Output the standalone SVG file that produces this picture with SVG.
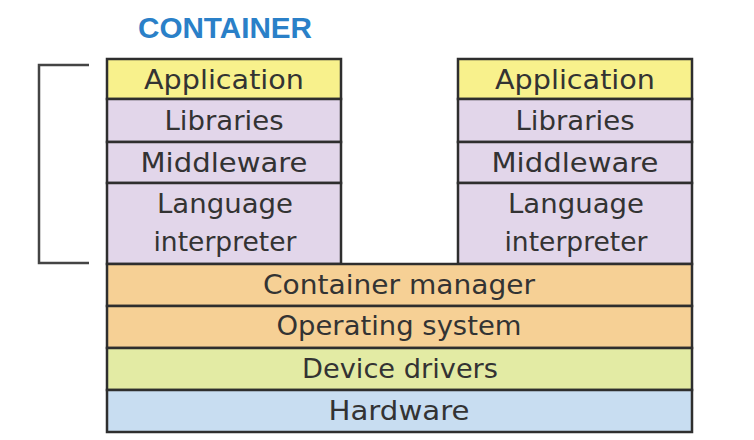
<svg xmlns="http://www.w3.org/2000/svg" width="754" height="440" viewBox="0 0 754 440">
<style>
.box{stroke:#2e2e2e;stroke-width:2.5}
.app{fill:#f8f18c}
.pur{fill:#e2d6ea}
.org{fill:#f6d095}
.grn{fill:#e3eba4}
.blu{fill:#c8ddf1}
.lbl{font-family:"DejaVu Sans","Liberation Sans",sans-serif;font-size:27px;fill:#333;text-anchor:middle}
.title{font-family:"Liberation Sans",sans-serif;font-weight:bold;font-size:29px;fill:#2a80c8;text-anchor:middle}
</style>
<rect width="754" height="440" fill="#fff"/>
<text class="title" x="225" y="38" textLength="174" lengthAdjust="spacingAndGlyphs">CONTAINER</text>
<g id="bracket"><path d="M89,65 H39 V263 H89" fill="none" stroke="#444" stroke-width="2.5"/></g>
<g id="left-stack">
<g id="app1"><rect class="box app" x="107" y="59" width="234" height="40"/><text class="lbl" x="224" y="89" textLength="160" lengthAdjust="spacingAndGlyphs">Application</text></g>
<g id="lib1"><rect class="box pur" x="107" y="99" width="234" height="43"/><text class="lbl" x="224" y="130" textLength="119" lengthAdjust="spacingAndGlyphs">Libraries</text></g>
<g id="mid1"><rect class="box pur" x="107" y="142" width="234" height="41"/><text class="lbl" x="224" y="172" textLength="167" lengthAdjust="spacingAndGlyphs">Middleware</text></g>
<g id="lang1"><rect class="box pur" x="107" y="183" width="234" height="81"/><text class="lbl" x="225" y="213" textLength="136" lengthAdjust="spacingAndGlyphs">Language</text><text class="lbl" x="225" y="251" textLength="143" lengthAdjust="spacingAndGlyphs">interpreter</text></g>
</g>
<g id="right-stack">
<g id="app2"><rect class="box app" x="458" y="59" width="234" height="40"/><text class="lbl" x="575" y="89" textLength="160" lengthAdjust="spacingAndGlyphs">Application</text></g>
<g id="lib2"><rect class="box pur" x="458" y="99" width="234" height="43"/><text class="lbl" x="575" y="130" textLength="119" lengthAdjust="spacingAndGlyphs">Libraries</text></g>
<g id="mid2"><rect class="box pur" x="458" y="142" width="234" height="41"/><text class="lbl" x="575" y="172" textLength="167" lengthAdjust="spacingAndGlyphs">Middleware</text></g>
<g id="lang2"><rect class="box pur" x="458" y="183" width="234" height="81"/><text class="lbl" x="576" y="213" textLength="136" lengthAdjust="spacingAndGlyphs">Language</text><text class="lbl" x="576" y="251" textLength="143" lengthAdjust="spacingAndGlyphs">interpreter</text></g>
</g>
<g id="cm"><rect class="box org" x="107" y="264" width="585" height="42"/><text class="lbl" x="399" y="294" textLength="272" lengthAdjust="spacingAndGlyphs">Container manager</text></g>
<g id="os"><rect class="box org" x="107" y="306" width="585" height="42"/><text class="lbl" x="399" y="335" textLength="245" lengthAdjust="spacingAndGlyphs">Operating system</text></g>
<g id="dd"><rect class="box grn" x="107" y="348" width="585" height="42"/><text class="lbl" x="400" y="378" textLength="196" lengthAdjust="spacingAndGlyphs">Device drivers</text></g>
<g id="hw"><rect class="box blu" x="107" y="390" width="585" height="42"/><text class="lbl" x="399" y="420" textLength="141" lengthAdjust="spacingAndGlyphs">Hardware</text></g>
<g id="connectors"/>
</svg>
